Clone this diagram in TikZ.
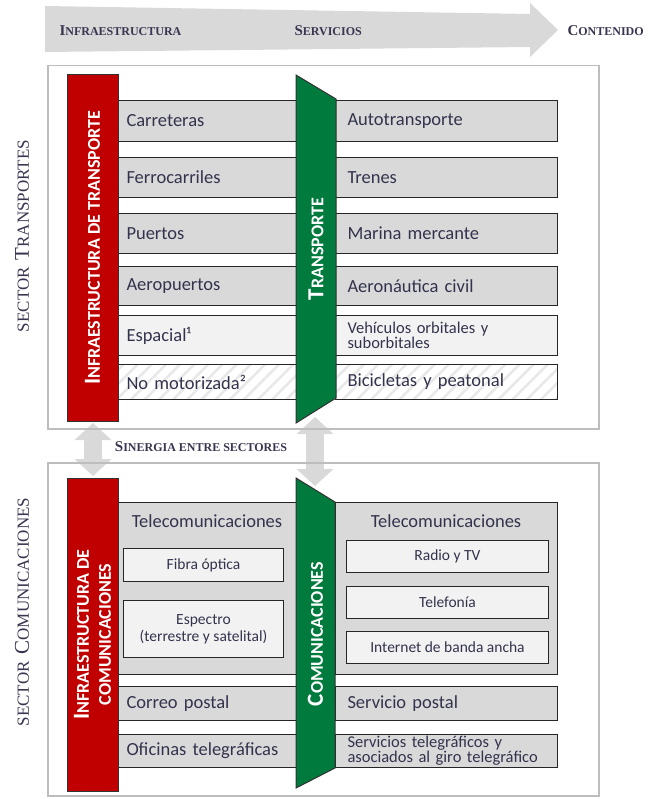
\documentclass[tikz,border=0pt]{standalone}
\usepackage{fontspec}
\usetikzlibrary{arrows.meta,patterns.meta}
\newfontfamily\calfont{Carlito}
\newfontfamily\serfont{Liberation Serif}
\definecolor{barred}{HTML}{C00000}
\definecolor{bargreen}{HTML}{007A3D}
\definecolor{boxgray}{HTML}{D9D9D9}
\definecolor{boxlight}{HTML}{F2F2F2}
\definecolor{framegray}{HTML}{BDBDBD}
\definecolor{inkblue}{HTML}{33334D}
\definecolor{headink}{HTML}{3A3550}
\newcommand{\bodyfont}{\calfont\fontsize{18.5}{20}\selectfont}
\newcommand{\smallbody}{\calfont\fontsize{15.5}{17}\selectfont}
\newcommand{\twoline}{\calfont\fontsize{16.5}{15}\selectfont}
\newcommand{\barfont}{\calfont\bfseries\fontsize{18}{22}\selectfont}
\newcommand{\headfont}{\serfont\bfseries}
\newcommand{\sectorfont}{\serfont\fontsize{17}{23}\selectfont}
\newcommand{\capI}[1]{{\fontsize{23}{22}\selectfont #1}}
\newcommand{\hsc}[2]{{\fontsize{15}{17}\selectfont #1}{\fontsize{12}{17}\selectfont #2}}
\newcommand{\ssc}[2]{{\fontsize{21}{23}\selectfont #1}{\fontsize{17}{23}\selectfont #2}}

\begin{document}
\begin{tikzpicture}[x=1pt, y=-1pt,
    frame/.style={draw=framegray, line width=1.5pt, minimum width=551pt, anchor=north west, inner sep=0pt},
    rowleft/.style={draw=black!85, line width=1pt, fill=boxgray, anchor=north west, inner sep=0pt,
        minimum width=178pt, text width=162pt, align=left, text=inkblue, font=\bodyfont},
    rowright/.style={rowleft, minimum width=222pt, text width=198pt},
    subbox/.style={draw=black!85, line width=1pt, fill=boxlight, anchor=north west, inner sep=0pt,
        align=center, text=inkblue, font=\smallbody},
    redbar/.style={draw=black!80, line width=1pt, fill=barred, text=white, rotate=90, inner sep=0pt,
        minimum height=51pt, align=center, font=\barfont},
    greenbar/.style={draw=black!80, line width=1pt, fill=bargreen},
    bartext/.style={text=white, rotate=90, align=center, font=\barfont},
    hatched/.style={fill=white, postaction={pattern={Lines[angle=45,distance=10pt,line width=2.5pt]}, pattern color=black!9},
        postaction={draw=black!85, line width=1pt}},
    synarrow/.style={draw=boxgray, line width=18pt, {Triangle[width=36pt,length=17pt]}-{Triangle[width=36pt,length=17pt]}},
    head/.style={text=headink, font=\headfont},
    sector/.style={text=headink, font=\sectorfont, rotate=90}
]
    \useasboundingbox (0,0) rectangle (647,799);

    % header arrow
    \fill[boxgray] (45,6) -- (530,14) -- (530,3) -- (558,30) -- (530,57) -- (530,47) -- (45,52) -- cycle;
    \node[head, anchor=west] (hInfra) at (56,31) {\hsc{I}{NFRAESTRUCTURA}};
    \node[head, anchor=west] (hServ) at (291,31) {\hsc{S}{ERVICIOS}};
    \node[head, anchor=west] (hCont) at (564,31) {\hsc{C}{ONTENIDO}};

    % synergy arrows
    \coordinate (synLtop) at (93,423);
    \coordinate (synLbot) at (93,476);
    \coordinate (synRtop) at (315,417);
    \coordinate (synRbot) at (315,486);
    \draw[synarrow] (synLtop) -- (synLbot);
    \draw[synarrow] (synRtop) -- (synRbot);
    \node[head] (syn) at (201,447) {\hsc{S}{INERGIA ENTRE SECTORES}};

    % sector frames
    \node[frame, minimum height=363pt] (secT) at (47,65) {};
    \node[frame, minimum height=333pt] (secC) at (47,462) {};
    \node[sector] (lblT) at (22,236) {SECTOR\hspace{7pt}\ssc{T}{RANSPORTES}};
    \node[sector] (lblC) at (22,612) {SECTOR\hspace{7pt}\ssc{C}{OMUNICACIONES}};

    % transport rows
    \node[rowleft, minimum height=41pt] (carr) at (118,100) {Carreteras};
    \node[rowleft, minimum height=40pt] (ferr) at (118,157) {Ferrocarriles};
    \node[rowleft, minimum height=40pt] (puer) at (118,213) {Puertos};
    \node[rowleft, minimum height=39pt] (aero) at (118,266) {Aeropuertos};
    \node[rowleft, minimum height=40pt, fill=boxlight] (espa) at (118,315) {Espacial¹};
    \node[rowleft, minimum height=35pt, hatched] (nomo) at (118,364) {No motorizada²};
    \node[rowright, minimum height=41pt] (auto) at (335,100) {Autotransporte};
    \node[rowright, minimum height=40pt] (tren) at (335,157) {Trenes};
    \node[rowright, minimum height=40pt] (mari) at (335,213) {Marina mercante};
    \node[rowright, minimum height=39pt] (aeron) at (335,266) {Aeronáutica civil};
    \node[rowright, minimum height=40pt, fill=boxlight, font=\twoline] (vehi) at (335,315) {Vehículos orbitales y\\suborbitales};
    \node[rowright, minimum height=35pt, hatched] (bici) at (335,364) {Bicicletas y peatonal};

    % communication rows
    \node[rowleft, minimum height=172pt] (telL) at (118,502) {};
    \node[text=inkblue, font=\bodyfont] (telLt) at (207,521) {Telecomunicaciones};
    \node[subbox, minimum width=160pt, minimum height=33pt] (fibra) at (123,548) {Fibra óptica};
    \node[subbox, minimum width=160pt, minimum height=57pt] (espec) at (123,600) {Espectro\\(terrestre y satelital)};
    \node[rowleft, minimum height=34pt] (corr) at (118,686) {Correo postal};
    \node[rowleft, minimum height=33pt] (ofic) at (118,734) {Oficinas telegráficas};
    \node[rowright, minimum height=172pt] (telR) at (335,502) {};
    \node[text=inkblue, font=\bodyfont] (telRt) at (446,521) {Telecomunicaciones};
    \node[subbox, minimum width=202pt, minimum height=32pt] (radio) at (346,540) {Radio y TV};
    \node[subbox, minimum width=202pt, minimum height=32pt] (telef) at (346,586) {Telefonía};
    \node[subbox, minimum width=202pt, minimum height=32pt] (inter) at (346,631) {Internet de banda ancha};
    \node[rowright, minimum height=34pt] (serv) at (335,686) {Servicio postal};
    \node[rowright, minimum height=33pt, font=\twoline] (stel) at (335,734) {Servicios telegráficos y\\asociados al giro telegráfico};

    % bars
    \node[redbar, minimum width=346pt] (infT) at (92.5,248) {\capI{I}NFRAESTRUCTURA DE TRANSPORTE};
    \node[redbar, minimum width=313pt] (infC) at (92.5,634.5) {\capI{I}NFRAESTRUCTURA DE\\COMUNICACIONES};
    \draw[greenbar] (296,75) -- (336,99) -- (336,398) -- (296,423) -- cycle;
    \node[bartext] (transp) at (316,249) {\capI{T}RANSPORTE};
    \draw[greenbar] (296,478) -- (335,502) -- (335,768) -- (296,788) -- cycle;
    \node[bartext] (comun) at (315.5,634) {\capI{C}OMUNICACIONES};
\end{tikzpicture}
\end{document}
